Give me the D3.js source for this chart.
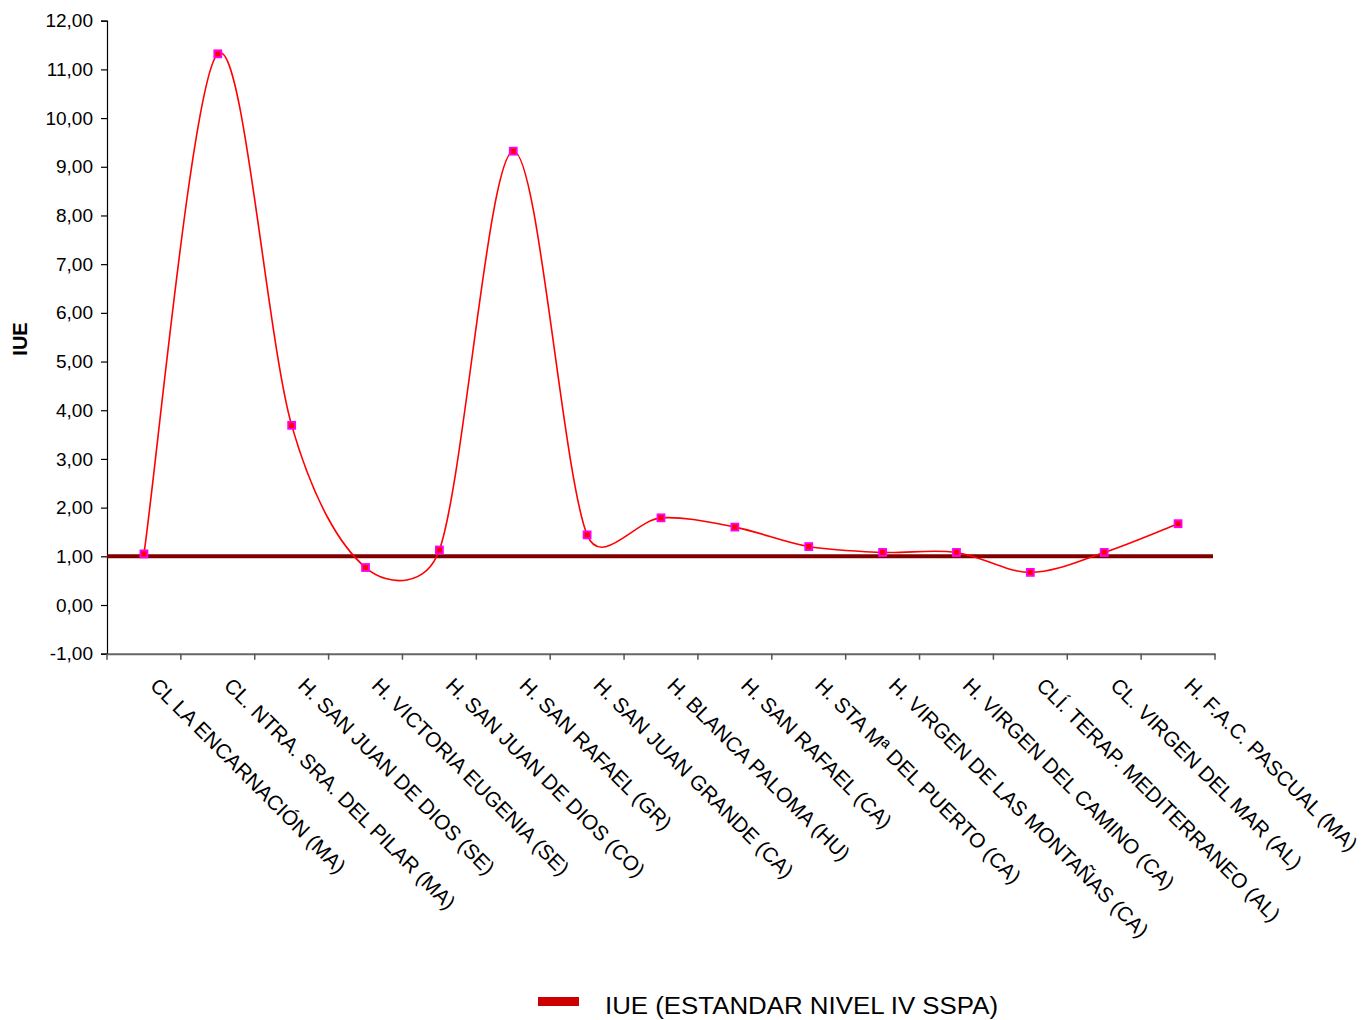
<!DOCTYPE html>
<html>
<head>
<meta charset="utf-8">
<script src="https://cdn.jsdelivr.net/npm/d3@7"></script>
<style>
  html, body { margin: 0; padding: 0; background: #fff; }
  svg { display: block; font-family: Arial, "Liberation Sans", sans-serif; }
</style>
</head>
<body>
<svg id="chart" width="1361" height="1020"></svg>
<script>
const categories = [
  "CL LA ENCARNACIÓN (MA)",
  "CL. NTRA. SRA. DEL PILAR (MA)",
  "H. SAN JUAN DE DIOS (SE)",
  "H. VICTORIA EUGENIA (SE)",
  "H. SAN JUAN DE DIOS (CO)",
  "H. SAN RAFAEL (GR)",
  "H. SAN JUAN GRANDE (CA)",
  "H. BLANCA PALOMA (HU)",
  "H. SAN RAFAEL (CA)",
  "H. STA Mª DEL PUERTO (CA)",
  "H. VIRGEN DE LAS MONTAÑAS (CA)",
  "H. VIRGEN DEL CAMINO (CA)",
  "CLÍ. TERAP. MEDITERRANEO (AL)",
  "CL. VIRGEN DEL MAR (AL)",
  "H. F.A.C. PASCUAL (MA)"
];
const iueValues = [1.05, 11.32, 3.69, 0.77, 1.13, 9.32, 1.44, 1.79, 1.60, 1.20, 1.08, 1.08, 0.67, 1.08, 1.67];
const standardValue = 1.00;
const standardLabel = "IUE (ESTANDAR NIVEL IV SSPA)";
const yTicks = [-1, 0, 1, 2, 3, 4, 5, 6, 7, 8, 9, 10, 11, 12];
const yTitle = "IUE";

(function () {
const svg = d3.select("#chart");
const pLeft = 107, pRight = 1215, pTop = 20.7, pBottom = 653.7;

const x = d3.scaleBand().domain(categories).range([pLeft, pRight]).padding(0);
const y = d3.scaleLinear().domain([-1, 12]).range([pBottom, pTop]);
const cx = d => x(d) + x.bandwidth() / 2;
const fmt = v => v.toFixed(2).replace(".", ",");

// Y axis
const yAxis = svg.append("g").attr("transform", `translate(${pLeft},0)`)
  .call(d3.axisLeft(y).tickValues(yTicks).tickFormat(fmt).tickSize(6).tickPadding(8));
yAxis.select(".domain").attr("stroke", "#000").attr("stroke-width", 1.2);
yAxis.selectAll(".tick line").attr("stroke", "#000").attr("stroke-width", 1.2);
yAxis.selectAll(".tick text").attr("font-size", 19).attr("fill", "#000")
  .attr("font-family", "Arial, 'Liberation Sans', sans-serif");

// X axis
const xAxis = svg.append("g").attr("transform", `translate(0,${pBottom})`)
  .call(d3.axisBottom(x).tickSize(0).tickFormat(""));
xAxis.select(".domain").attr("stroke", "#666").attr("stroke-width", 2);
const boundaries = categories.map(c => x(c)).concat([pRight]);
svg.append("g").selectAll("line").data(boundaries).join("line")
  .attr("x1", d => d).attr("x2", d => d)
  .attr("y1", pBottom).attr("y2", pBottom + 6)
  .attr("stroke", "#555").attr("stroke-width", 1.5);

// category labels
svg.append("g").selectAll("text").data(categories).join("text")
  .attr("transform", d => `translate(${cx(d) + 5},${pBottom + 33}) rotate(45)`)
  .attr("font-size", 20.8)
  .attr("fill", "#000")
  .text(d => d);

// Standard line
svg.append("line")
  .attr("x1", pLeft).attr("x2", pRight - 2)
  .attr("y1", y(standardValue)).attr("y2", y(standardValue))
  .attr("stroke", "#800000").attr("stroke-width", 4);

// IUE smoothed line (spreadsheet-style Bezier smoothing, control arms capped)
const pts = iueValues.map((v, i) => [cx(categories[i]), y(v)]);
const dist = (a, b) => Math.hypot(a[0] - b[0], a[1] - b[1]);
const p = d3.path();
p.moveTo(pts[0][0], pts[0][1]);
for (let i = 0; i < pts.length - 1; i++) {
  const P0 = pts[Math.max(i - 1, 0)], P1 = pts[i], P2 = pts[i + 1], P3 = pts[Math.min(i + 2, pts.length - 1)];
  const d12 = dist(P1, P2), d02 = dist(P0, P2), d13 = dist(P1, P3);
  let f0 = 1 / 6, f3 = 1 / 6;
  if (d02 / 6 >= d12 / 2 && d02 > 0) f0 = d12 / 2 / d02;
  if (d13 / 6 >= d12 / 2 && d13 > 0) f3 = d12 / 2 / d13;
  const b1 = [P1[0] + (P2[0] - P0[0]) * f0, P1[1] + (P2[1] - P0[1]) * f0];
  const b2 = [P2[0] - (P3[0] - P1[0]) * f3, P2[1] - (P3[1] - P1[1]) * f3];
  p.bezierCurveTo(b1[0], b1[1], b2[0], b2[1], P2[0], P2[1]);
}
svg.append("path")
  .attr("d", p.toString())
  .attr("fill", "none")
  .attr("stroke", "#ff0000")
  .attr("stroke-width", 1.6);

// markers
svg.append("g").selectAll("rect").data(iueValues).join("rect")
  .attr("x", (d, i) => cx(categories[i]) - 3.5)
  .attr("y", d => y(d) - 3.5)
  .attr("width", 7).attr("height", 7)
  .attr("fill", "#ff0000")
  .attr("stroke", "#ff00ff")
  .attr("stroke-width", 1.8);

// Y title
svg.append("text")
  .attr("transform", `translate(27,339) rotate(-90)`)
  .attr("text-anchor", "middle")
  .attr("font-size", 20)
  .attr("font-weight", "bold")
  .text(yTitle);

// Legend
svg.append("rect")
  .attr("x", 538).attr("y", 997).attr("width", 41).attr("height", 9)
  .attr("fill", "#cc0000");
svg.append("text")
  .attr("x", 605).attr("y", 1014)
  .attr("font-size", 23)
  .attr("textLength", 393)
  .attr("lengthAdjust", "spacingAndGlyphs")
  .text(standardLabel);
})();
</script>
</body>
</html>
